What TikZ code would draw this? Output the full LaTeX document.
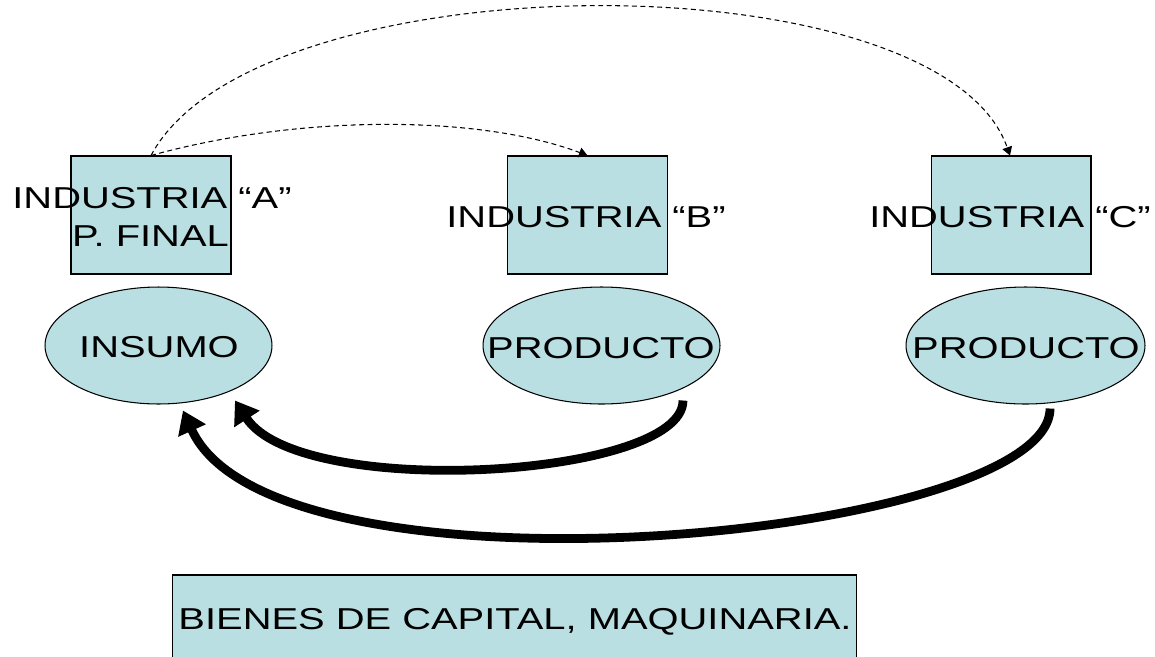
\documentclass[tikz,border=0pt]{standalone}
\usepackage{fontspec}
\setmainfont{Liberation Sans}[FakeStretch=1.32]
\usetikzlibrary{arrows.meta,shapes.geometric}
\definecolor{boxfill}{HTML}{B9DFE3}
\begin{document}
\begin{tikzpicture}[x=0.02cm,y=-0.02cm,
  txt/.style={font=\fontsize{17.2}{20}\selectfont,anchor=base,inner sep=0pt},
  indbox/.style={draw=black,line width=0.6pt,fill=boxfill,minimum width=3.2cm,minimum height=2.36cm,inner sep=0pt},
  prodell/.style={ellipse,draw=black,line width=0.6pt,fill=boxfill,minimum height=2.34cm,inner sep=0pt},
  dasharrow/.style={line width=0.6pt,dash pattern=on 2.8pt off 2pt,-{Triangle[length=0.17cm,width=0.2cm]}},
  thickarrow/.style={line width=5pt,-{Triangle[length=0.44cm,width=0.58cm]}}]
\useasboundingbox (0,0) rectangle (1155,656);
% boxes
\node[indbox] (boxA) at (151,215) {};
\node[indbox] (boxB) at (587.5,215) {};
\node[indbox] (boxC) at (1011,215) {};
\node[txt] (tA1) at (152,208.5) {INDUSTRIA “A”};
\node[txt] (tA2) at (150.5,246) {P. FINAL};
\node[txt] (tB) at (586,227.5) {INDUSTRIA “B”};
\node[txt] (tC) at (1010,227.5) {INDUSTRIA “C”};
% ellipses
\node[prodell,minimum width=4.54cm] (ellA) at (158.5,345.5) {};
\node[prodell,minimum width=4.74cm] (ellB) at (601.5,345.5) {};
\node[prodell,minimum width=4.78cm] (ellC) at (1025.5,345.5) {};
\node[txt] (tIns) at (159,357) {INSUMO};
\node[txt] (tPB) at (601,358) {PRODUCTO};
\node[txt] (tPC) at (1026,358.5) {PRODUCTO};
% bottom box
\node[draw=black,line width=0.6pt,fill=boxfill,minimum width=13.7cm,minimum height=2cm,inner sep=0pt] (capital) at (514.5,625) {};
\node[txt] (tCap) at (515,629.5) {BIENES DE CAPITAL, MAQUINARIA.};
% dashed arrows
\draw[dasharrow] (boxA.north) .. controls +(148,-41) and +(-109,-41) .. (boxB.north);
\draw[dasharrow] (boxA.north) .. controls +(105,-197) and +(-70,-200) .. ([xshift=-0.02cm]boxC.north);
% thick arrows
\draw[thickarrow] ([shift={(81.5,-4)}]ellB.south) .. controls +(0,78) and +(65,100) .. ([shift={(76.5,-4)}]ellA.south);
\draw[thickarrow] ([shift={(24.5,4)}]ellC.south) .. controls +(0,130) and +(91,201) .. ([shift={(24.5,6)}]ellA.south);
\end{tikzpicture}
\end{document}
